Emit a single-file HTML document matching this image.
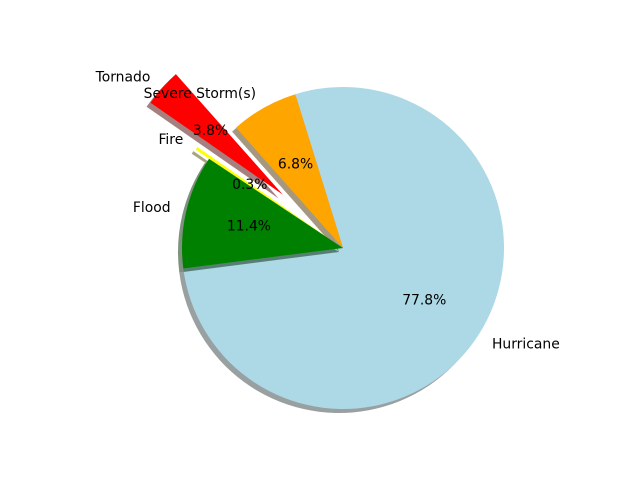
<!DOCTYPE html>
<html><head><meta charset="utf-8"><style>
html,body{margin:0;padding:0;background:#fff;}
svg text{font-family:"DejaVu Sans","Liberation Sans",sans-serif;font-size:13.9px;fill:#000;}
</style></head><body>
<svg id="chart" width="640" height="480" viewBox="0 0 640 480" xmlns="http://www.w3.org/2000/svg">
<rect width="640" height="480" fill="#fff"/>
<g id="pie"></g>
<g id="labels"></g>
</svg>
<script>
const categories = ["Hurricane", "Severe Storm(s)", "Tornado", "Fire", "Flood"];
const values = [77.76, 6.77, 3.78, 0.31, 11.38];
const explodes = [0, 0, 0.5, 0.1, 0];
const colors = ["#add8e6", "#ffa500", "#ff0000", "#ffff00", "#008000"];
const startAngle = 187.3;

const cx = 343, cy = 248, R = 161;
const g = document.getElementById('pie');
const gl = document.getElementById('labels');
const NS = 'http://www.w3.org/2000/svg';
const total = values.reduce((a, b) => a + b, 0);
function pt(x0, y0, r, deg) { const a = deg * Math.PI / 180; return [x0 + r * Math.cos(a), y0 - r * Math.sin(a)]; }
function darker(hex) {
  const n = parseInt(hex.slice(1), 16);
  const r = (n >> 16) & 255, gg = (n >> 8) & 255, b = n & 255;
  return 'rgb(' + Math.round(r * 0.3) + ',' + Math.round(gg * 0.3) + ',' + Math.round(b * 0.3) + ')';
}
let a0 = startAngle;
values.forEach((v, i) => {
  const span = v / total * 360;
  const a1 = a0 + span, mid = (a0 + a1) / 2;
  const off = explodes[i] * R;
  const [ox, oy] = pt(0, 0, off, mid);
  const x0 = cx + ox, y0 = cy + oy;
  const p0 = pt(x0, y0, R, a0), p1 = pt(x0, y0, R, a1);
  const large = span > 180 ? 1 : 0;
  const d = 'M' + x0 + ',' + y0 + ' L' + p0[0] + ',' + p0[1] + ' A' + R + ',' + R + ' 0 ' + large + ' 0 ' + p1[0] + ',' + p1[1] + ' Z';
  const sh = document.createElementNS(NS, 'path');
  sh.setAttribute('d', d);
  sh.setAttribute('transform', 'translate(-4,4)');
  sh.setAttribute('fill', darker(colors[i]));
  sh.setAttribute('fill-opacity', '0.5');
  
  
  g.appendChild(sh);
  const w = document.createElementNS(NS, 'path');
  w.setAttribute('d', d);
  w.setAttribute('fill', colors[i]);
  
  
  g.appendChild(w);
  const lp = pt(x0, y0, R * 1.1, mid);
  const t = document.createElementNS(NS, 'text');
  t.setAttribute('x', lp[0]); t.setAttribute('y', lp[1] + 4.5);
  const c = Math.cos(mid * Math.PI / 180);
  t.setAttribute('text-anchor', c < 0 ? 'end' : 'start');
  t.textContent = categories[i];
  
  
  gl.appendChild(t);
  const pp = pt(x0, y0, R * 0.6, mid);
  const tp = document.createElementNS(NS, 'text');
  tp.setAttribute('x', pp[0]); tp.setAttribute('y', pp[1] + 4.5);
  tp.setAttribute('text-anchor', 'middle');
  tp.textContent = (v / total * 100).toFixed(1) + '%';
  
  
  gl.appendChild(tp);
  a0 = a1;
});
</script>
</body></html>
